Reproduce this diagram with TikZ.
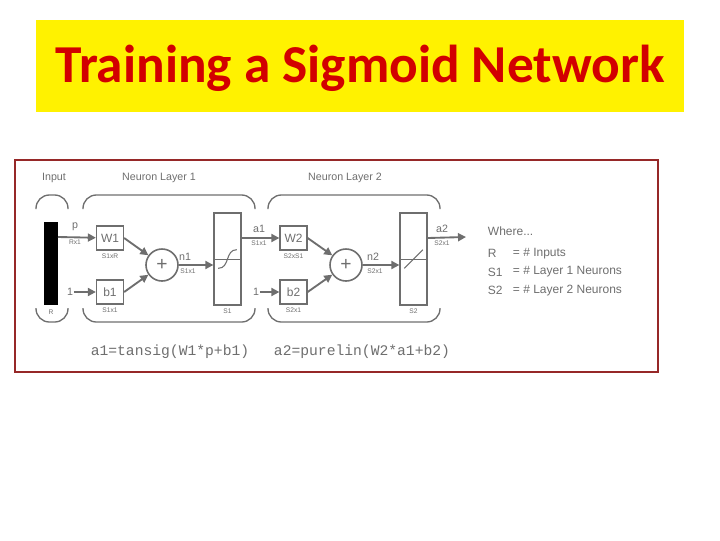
\documentclass[tikz,border=0pt]{standalone}
\usepackage{fontspec}
\setmainfont{Liberation Sans}
\newfontfamily\titlefont{Carlito}
\setmonofont{Liberation Mono}
\usetikzlibrary{arrows.meta}
\definecolor{lgray}{RGB}{110,110,110}
\definecolor{framered}{RGB}{150,40,40}
\definecolor{titlered}{RGB}{210,0,0}
\tikzset{
  wbox/.style={draw=lgray,line width=1.2pt,minimum width=20pt,minimum height=18pt,inner sep=0pt,font=\small,text=lgray},
  fbox/.style={draw=lgray,line width=1.2pt,minimum width=20pt,minimum height=69pt,inner sep=0pt},
  small/.style={font=\fontsize{5}{5}\selectfont,text=lgray,inner sep=0.5pt},
  lbl/.style={font=\footnotesize,text=lgray,inner sep=0.5pt},
  conn/.style={draw=lgray,line width=1.4pt,-{Triangle[length=6pt,width=6pt]}},
  brace/.style={draw=lgray,line width=1pt,rounded corners=10pt}
}
\begin{document}
\begin{tikzpicture}[x=0.75pt,y=0.75pt,yscale=-1,xscale=1]
    \useasboundingbox (0,0) rectangle (720,540);

    % title
    \fill[yellow] (36,20) rectangle (684,112);
    \node (title) at (360,68) [text=titlered,font=\titlefont\bfseries\fontsize{40}{40}\selectfont] {Training a Sigmoid Network};

    % frame
    \draw[framered,line width=1pt] (15,160) rectangle (658,372);

    % input
    \fill[black] (44,222) rectangle (58,305);
    \coordinate (pin) at (58,237);
    \node (R) at (51,312) [small] {R};

    % braces
    \draw[brace] (36,209) -- (36,195) -- (68,195) -- (68,209);
    \draw[brace] (83,209) -- (83,195) -- (255,195) -- (255,209);
    \draw[brace] (268,209) -- (268,195) -- (440,195) -- (440,209);
    \draw[brace] (36,308) -- (36,322) -- (68,322) -- (68,308);
    \draw[brace] (83,308) -- (83,322) -- (255,322) -- (255,308);
    \draw[brace] (268,308) -- (268,322) -- (440,322) -- (440,308);
    \node (tin) at (54,178) [lbl] {Input};
    \node (tl1) at (159,178) [lbl] {Neuron Layer 1};
    \node (tl2) at (345,178) [lbl] {Neuron Layer 2};

    % layer 1
    \node (W1) at (110,238) [wbox] {W1};
    \node (b1) at (110,292) [wbox] {b1};
    \node (s1) at (162,265) [circle,draw=lgray,line width=1.2pt,minimum size=24pt,inner sep=0pt,font=\Large,text=lgray] {+};
    \node (f1) at (227.5,259) [fbox] {};
    \draw[lgray,very thin] (f1.west) -- (f1.east);
    \draw[lgray,line width=0.8pt] ([xshift=-7pt,yshift=7pt]f1.center) .. controls ([xshift=2pt,yshift=7pt]f1.center) and ([xshift=-2pt,yshift=-7pt]f1.center) .. ([xshift=7pt,yshift=-7pt]f1.center);
    \node (one1) at (70,292) [lbl] {1};
    \draw[conn] (pin) -- (W1);
    \draw[conn] (one1) -- (b1);
    \draw[conn] (W1.east) -- (s1);
    \draw[conn] (b1.east) -- (s1);
    \draw[conn] (s1) -- (f1.west |- s1);
    \node at (75,227) [lbl] {p};
    \node at (75,242) [small] {Rx1};
    \node at (110,256) [small] {S1xR};
    \node at (110,310) [small] {S1x1};
    \node at (185,257) [lbl] {n1};
    \node at (188,271) [small] {S1x1};
    \node at (227.5,311) [small] {S1};

    % layer 2
    \node (W2) at (293.5,238) [wbox] {W2};
    \node (b2) at (293.5,292) [wbox] {b2};
    \node (s2) at (346,265) [circle,draw=lgray,line width=1.2pt,minimum size=24pt,inner sep=0pt,font=\Large,text=lgray] {+};
    \node (f2) at (413.5,259) [fbox] {};
    \draw[lgray,very thin] (f2.west) -- (f2.east);
    \draw[lgray,line width=0.8pt] ([xshift=-7pt,yshift=7pt]f2.center) -- ([xshift=7pt,yshift=-7pt]f2.center);
    \node (one2) at (256,292) [lbl] {1};
    \coordinate (aout) at (466,237);
    \draw[conn] (f1.east |- W2) -- (W2);
    \draw[conn] (one2) -- (b2);
    \draw[conn] (W2.east) -- (s2);
    \draw[conn] (b2.east) -- (s2);
    \draw[conn] (s2) -- (f2.west |- s2);
    \draw[conn] (f2.east |- W2) -- (aout);
    \node at (259,229) [lbl] {a1};
    \node at (259,243) [small] {S1x1};
    \node at (293.5,256) [small] {S2xS1};
    \node at (293.5,310) [small] {S2x1};
    \node at (373,257) [lbl] {n2};
    \node at (375,271) [small] {S2x1};
    \node at (413.5,311) [small] {S2};
    \node at (442,229) [lbl] {a2};
    \node at (442,243) [small] {S2x1};

    % legend
    \node (where) at (487,231) [anchor=west,lbl,font=\small] {Where...};
    \node (leg) at (487,272) [anchor=west,lbl,font=\small,align=left] {R\\[3pt]S1\\[3pt]S2};
    \node (legt) at (512,272) [anchor=west,lbl,font=\small,align=left] {= \# Inputs\\[3pt]= \# Layer 1 Neurons\\[3pt]= \# Layer 2 Neurons};

    % equations
    \node (eq1) at (170,352) [lbl,font=\ttfamily\fontsize{11}{12}\selectfont] {a1=tansig(W1*p+b1)};
    \node (eq2) at (362,352) [lbl,font=\ttfamily\fontsize{11}{12}\selectfont] {a2=purelin(W2*a1+b2)};
\end{tikzpicture}
\end{document}
